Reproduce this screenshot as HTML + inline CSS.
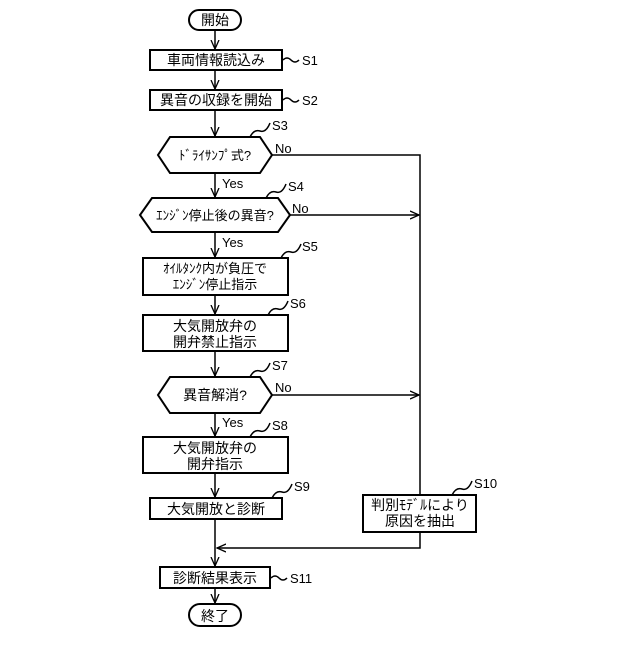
<!DOCTYPE html>
<html><head><meta charset="utf-8"><style>
body{margin:0;background:#fff}
svg text{font-family:"Liberation Sans","Noto Sans CJK JP",sans-serif;fill:#000}
</style></head><body>
<svg width="640" height="640" viewBox="0 0 640 640" xmlns="http://www.w3.org/2000/svg">
<defs><marker id="a" markerWidth="10" markerHeight="10" refX="9" refY="5" orient="auto" markerUnits="userSpaceOnUse"><path d="M0,1 L9,5 L0,9" fill="none" stroke="#000" stroke-width="1.3"/></marker></defs>
<g fill="none" stroke="#000" stroke-width="2">
<rect x="189" y="10" width="52" height="20" rx="10"/>
<rect x="150" y="50" width="132" height="20"/>
<rect x="150" y="90" width="132" height="20"/>
<polygon points="170,137 260,137 272,155 260,173 170,173 158,155"/>
<polygon points="152,198 278,198 290,215 278,232 152,232 140,215"/>
<rect x="143" y="258" width="145" height="37"/>
<rect x="143" y="315" width="145" height="36"/>
<polygon points="170,377 260,377 272,395 260,413 170,413 158,395"/>
<rect x="143" y="437" width="145" height="36"/>
<rect x="150" y="498" width="132" height="21"/>
<rect x="363" y="495" width="113" height="37"/>
<rect x="160" y="567" width="110" height="21"/>
<rect x="189" y="604" width="52" height="22" rx="11"/>
</g>
<g stroke="#000" stroke-width="1.5" fill="none">
<line x1="215" y1="30" x2="215" y2="49" marker-end="url(#a)"/>
<line x1="215" y1="70" x2="215" y2="89" marker-end="url(#a)"/>
<line x1="215" y1="110" x2="215" y2="136" marker-end="url(#a)"/>
<line x1="215" y1="173" x2="215" y2="197" marker-end="url(#a)"/>
<line x1="215" y1="232" x2="215" y2="257" marker-end="url(#a)"/>
<line x1="215" y1="295" x2="215" y2="314" marker-end="url(#a)"/>
<line x1="215" y1="351" x2="215" y2="376" marker-end="url(#a)"/>
<line x1="215" y1="413" x2="215" y2="436" marker-end="url(#a)"/>
<line x1="215" y1="473" x2="215" y2="497" marker-end="url(#a)"/>
<line x1="215" y1="519" x2="215" y2="566" marker-end="url(#a)"/>
<line x1="215" y1="588" x2="215" y2="603" marker-end="url(#a)"/>
<polyline points="272,155 420,155 420,495"/>
<line x1="290" y1="215" x2="419" y2="215" marker-end="url(#a)"/>
<line x1="272" y1="395" x2="419" y2="395" marker-end="url(#a)"/>
<polyline points="420,532 420,548 217,548" marker-end="url(#a)"/>
<path d="M283,60 q4,-4 8,0 t8,0"/>
<path d="M283,100 q4,-4 8,0 t8,0"/>
<path d="M250,137 q4,-8 10,-6 t10,-8"/>
<path d="M266,198 q4,-8 10,-6 t10,-8"/>
<path d="M281,258 q4,-8 10,-6 t10,-8"/>
<path d="M268,315 q4,-8 10,-6 t10,-8"/>
<path d="M250,377 q4,-8 10,-6 t10,-8"/>
<path d="M250,437 q4,-8 10,-6 t10,-8"/>
<path d="M272,498 q4,-8 10,-6 t10,-8"/>
<path d="M452,495 q4,-8 10,-6 t10,-8"/>
<path d="M271,578 q4,-4 8,0 t8,0"/>
</g>
<g font-size="14" text-anchor="middle">
<text x="215" y="25">開始</text>
<text x="216" y="65">車両情報読込み</text>
<text x="216" y="105">異音の収録を開始</text>
<text x="215" y="160" font-size="13">ﾄﾞﾗｲｻﾝﾌﾟ式?</text>
<text x="215" y="220" font-size="13">ｴﾝｼﾞﾝ停止後の異音?</text>
<text x="215" y="273" font-size="13">ｵｲﾙﾀﾝｸ内が負圧で</text>
<text x="215" y="289" font-size="13">ｴﾝｼﾞﾝ停止指示</text>
<text x="215" y="331">大気開放弁の</text>
<text x="215" y="347">開弁禁止指示</text>
<text x="215" y="400">異音解消?</text>
<text x="215" y="453">大気開放弁の</text>
<text x="215" y="469">開弁指示</text>
<text x="216" y="514">大気開放と診断</text>
<text x="420" y="510">判別ﾓﾃﾞﾙにより</text>
<text x="420" y="526">原因を抽出</text>
<text x="215" y="583">診断結果表示</text>
<text x="215" y="621">終了</text>
</g>
<g font-size="13">
<text x="302" y="65">S1</text>
<text x="302" y="105">S2</text>
<text x="272" y="130">S3</text>
<text x="288" y="191">S4</text>
<text x="302" y="251">S5</text>
<text x="290" y="308">S6</text>
<text x="272" y="370">S7</text>
<text x="272" y="430">S8</text>
<text x="294" y="491">S9</text>
<text x="474" y="488">S10</text>
<text x="290" y="583">S11</text>
<text x="275" y="153">No</text>
<text x="292" y="213">No</text>
<text x="275" y="392">No</text>
<text x="222" y="188">Yes</text>
<text x="222" y="247">Yes</text>
<text x="222" y="427">Yes</text>
</g>
</svg>
</body></html>
